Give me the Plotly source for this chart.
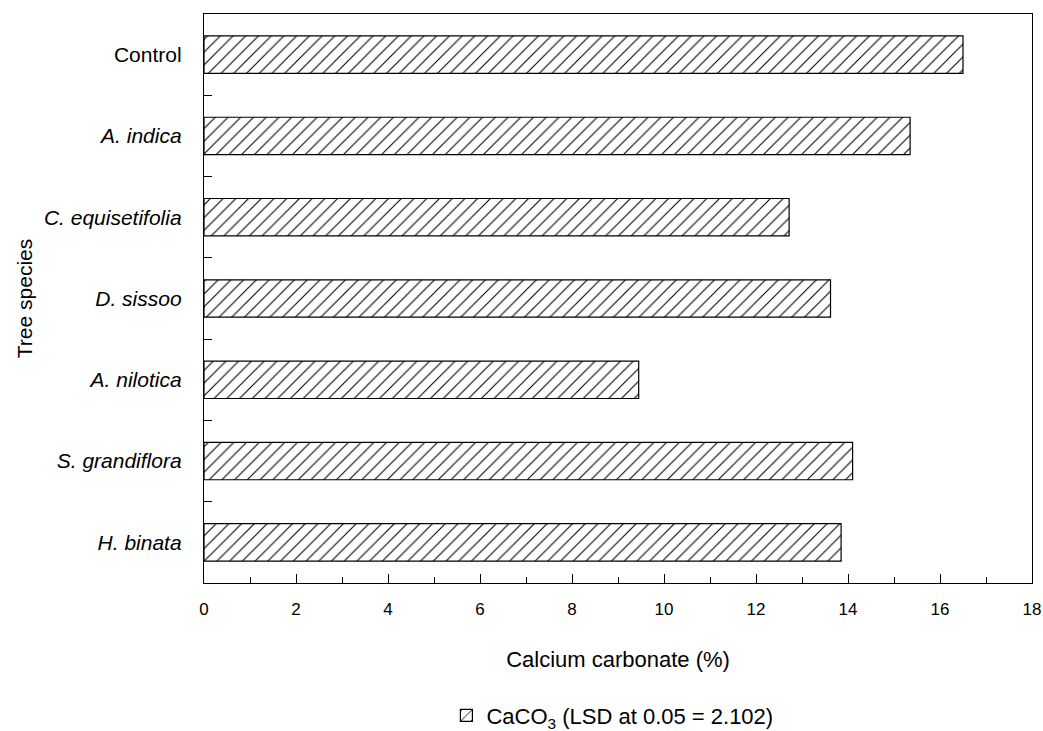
import plotly.graph_objects as go

species = ["Control", "A. indica", "C. equisetifolia", "D. sissoo",
           "A. nilotica", "S. grandiflora", "H. binata"]
tick_labels = ["Control", "<i>A. indica</i>", "<i>C. equisetifolia</i>", "<i>D. sissoo</i>",
               "<i>A. nilotica</i>", "<i>S. grandiflora</i>", "<i>H. binata</i>"]
caco3 = [16.5, 15.35, 12.72, 13.62, 9.45, 14.1, 13.85]
x_ticks = [0, 2, 4, 6, 8, 10, 12, 14, 16, 18]
series_name = "CaCO<sub>3</sub> (LSD at 0.05 = 2.102)"

FONT = "Liberation Sans, Arial, sans-serif"

fig = go.Figure()
fig.add_trace(go.Bar(
    x=caco3, y=species, orientation="h", width=0.46,
    name=series_name, showlegend=True,
    marker=dict(color="white", line=dict(color="black", width=1.2),
                pattern=dict(shape="/", size=9, solidity=0.12,
                             fgcolor="black", bgcolor="white", fillmode="replace")),
))

fig.update_layout(
    width=1043, height=731,
    margin=dict(l=204, r=11, t=14, b=148, autoexpand=False),
    paper_bgcolor="white", plot_bgcolor="white",
    font=dict(family=FONT, color="black", size=17),
    legend=dict(x=0.428, xanchor="left", xref="container",
                y=0.021, yanchor="middle", yref="container",
                orientation="h", font=dict(size=22, family=FONT),
                bgcolor="rgba(0,0,0,0)"),
    xaxis=dict(range=[0, 18], tickvals=x_ticks, ticks="inside", ticklen=9,
               tickwidth=1, tickcolor="black", automargin=False,
               minor=dict(dtick=1, tick0=0, ticks="inside", ticklen=6, tickcolor="black", showgrid=False),
               showline=True, linecolor="black", linewidth=1.3, mirror=True,
               showgrid=False, zeroline=False,
               tickfont=dict(size=17, family=FONT),
               ticklabelstandoff=10,
               title=dict(text="Calcium carbonate (%)", font=dict(size=22, family=FONT), standoff=34)),
    yaxis=dict(type="category", categoryorder="array", categoryarray=species,
               autorange="reversed", tickvals=species, ticktext=tick_labels,
               tickson="boundaries", ticks="inside", ticklen=8, tickcolor="black",
               automargin=False,
               showline=True, linecolor="black", linewidth=1.3, mirror=True,
               showgrid=False, zeroline=False,
               tickfont=dict(size=21, family=FONT),
               ticklabelstandoff=17,
               title=dict(text="Tree species", font=dict(size=21, family=FONT), standoff=5)),
)

fig.write_html(
    "out.html",
    config={"displayModeBar": False},
    post_script="document.body.style.margin='0';document.body.style.overflow='hidden';",
)
